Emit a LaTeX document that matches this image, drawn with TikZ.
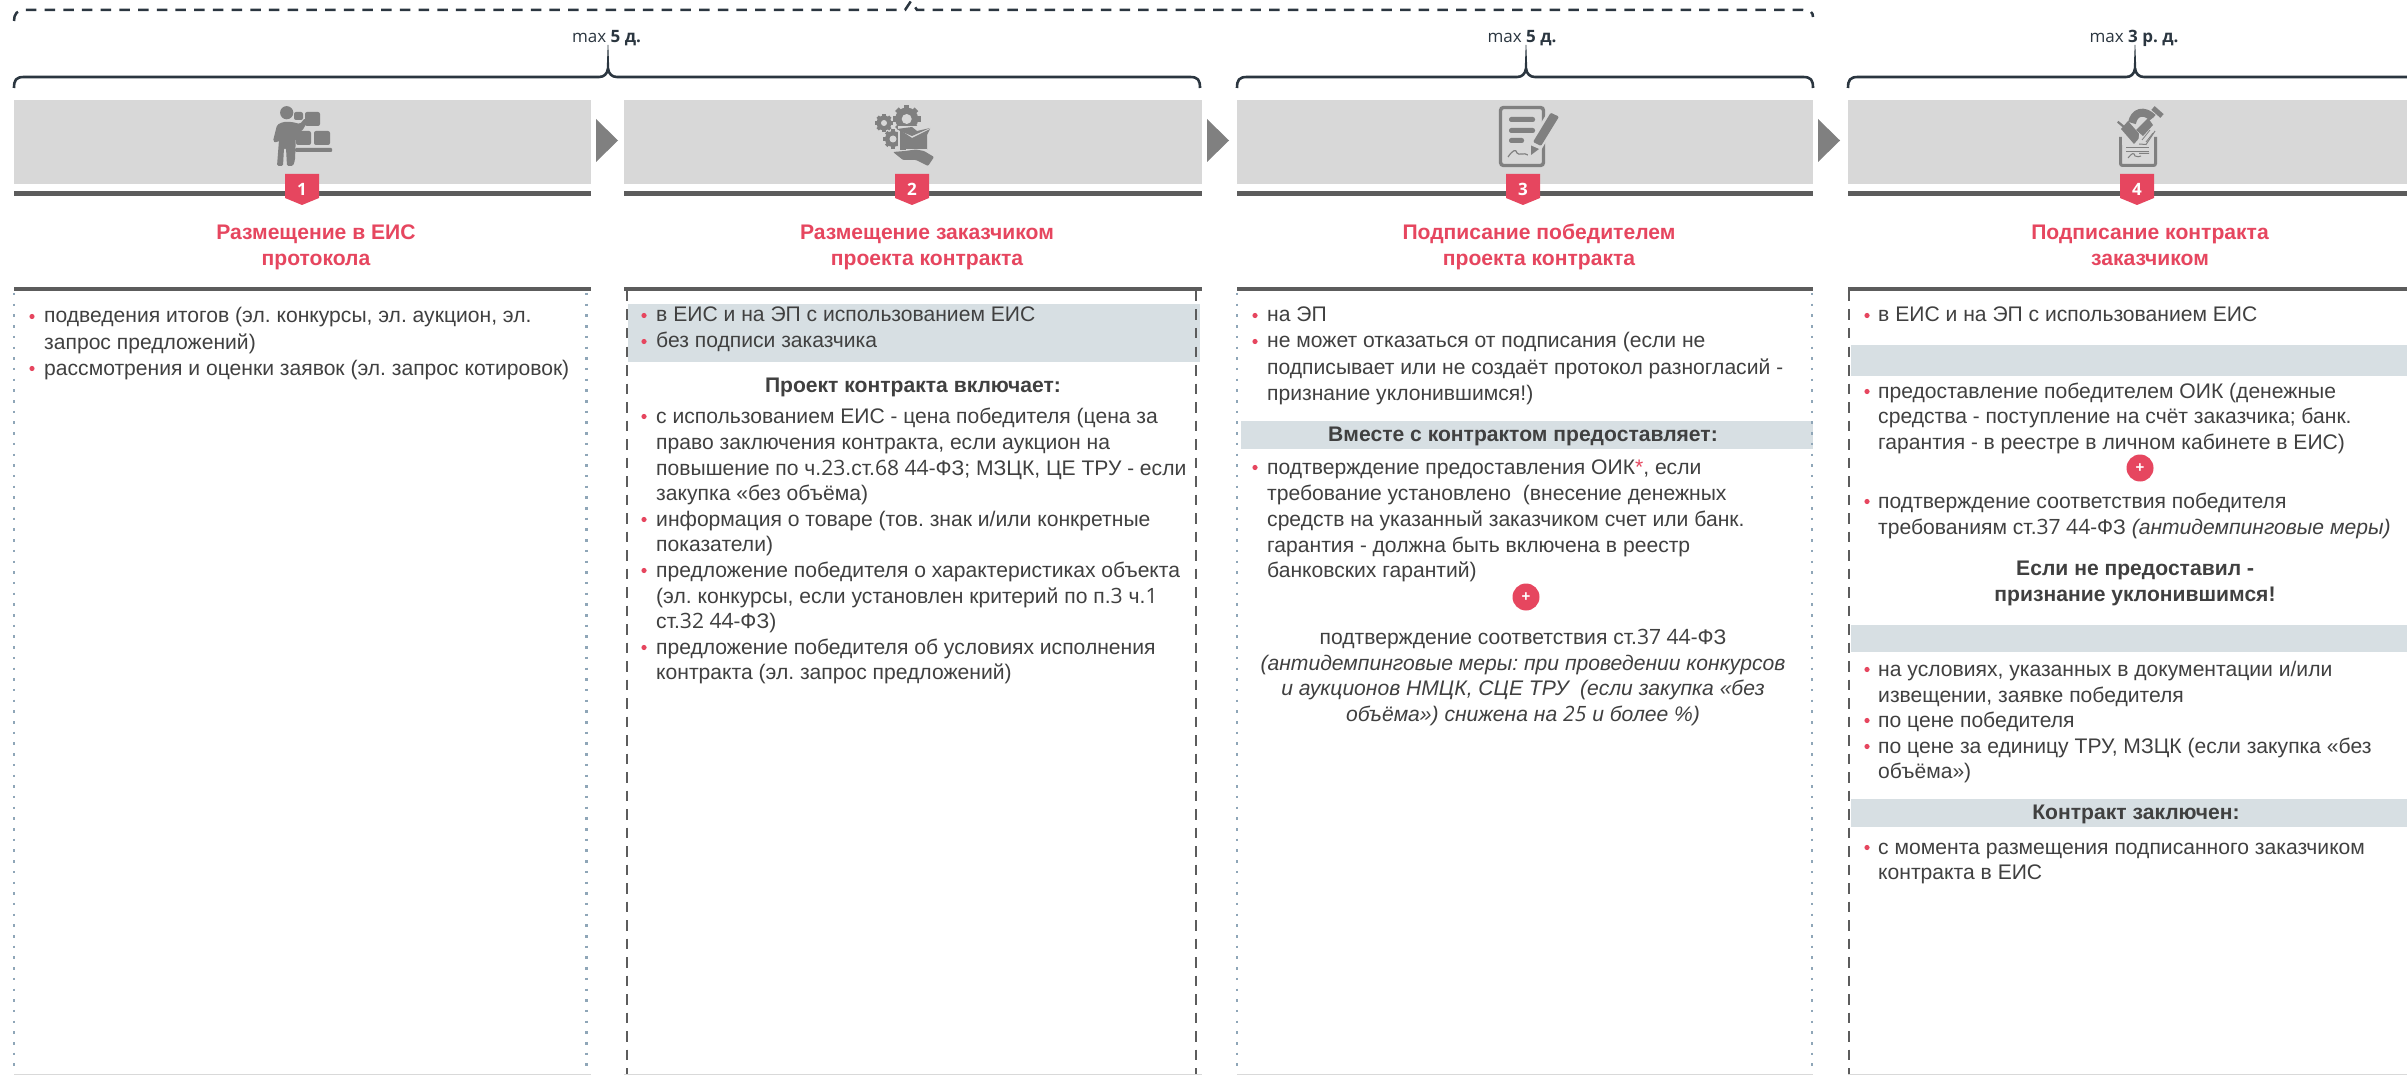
\documentclass[tikz,border=0pt]{standalone}
\usepackage{fontspec}
\setmainfont{Liberation Sans}
\newfontfamily\opensans{Open Sans}
\AtBeginDocument{\frenchspacing}
\definecolor{txt}{HTML}{404040}
\definecolor{redc}{HTML}{E6465F}
\definecolor{panelc}{HTML}{D8D8D8}
\definecolor{bandc}{HTML}{D7DFE3}
\definecolor{icon}{HTML}{808080}
\definecolor{barc}{HTML}{5C5C5C}
\definecolor{brc}{HTML}{2B3640}
\definecolor{dotc}{HTML}{8FA6B8}
\newcommand\dg[1]{{\opensans #1}}
\newcount\tn
\tikzset{
  body/.style={anchor=base west,inner sep=0pt,text=txt,font=\fontsize{21.1}{25}\selectfont},
  mid/.style={anchor=base,inner sep=0pt,text=txt,font=\fontsize{21.1}{25}\selectfont},
  midb/.style={anchor=base,inner sep=0pt,text=txt,font=\fontsize{21.1}{25}\selectfont\bfseries},
  ttl/.style={anchor=base,inner sep=0pt,text=redc,font=\fontsize{21.1}{25}\selectfont\bfseries},
  lbl/.style={anchor=base,inner sep=0pt,text=brc,font=\fontsize{17}{20}\selectfont\opensans},
  num/.style={anchor=center,inner sep=0pt,text=white,font=\fontsize{17}{20}\selectfont\opensans\bfseries},
  pluscirc/.style={circle,fill=redc,minimum size=27pt,inner sep=0pt,text=white,font=\fontsize{15}{16}\selectfont\bfseries},
  dotline/.style={draw=dotc,line width=2.5pt,dash pattern=on 2.5pt off 8.2pt},
  dashline/.style={draw=barc,line width=2.5pt,dash pattern=on 10.5pt off 8pt},
  bracel/.style={draw=brc,line width=2.6pt},
  topdash/.style={draw=brc,line width=2.5pt,dash pattern=on 10.5pt off 8.2pt},
}
% one text line
\newcommand\tl[3]{\global\advance\tn by 1 \node[body] (line\the\tn) at (#1,#2) {#3};}
\newcommand\cl[4]{\global\advance\tn by 1 \node[#1] (line\the\tn) at (#2,#3) {#4};}
\newcommand\bul[2]{\fill[redc] (#1,#2-6.5) circle (2.6pt);}
% panel head
\newcommand\head[2]{%
  \fill[panelc] (#1,100) rectangle (#2,184);
  \fill[barc] (#1,191) rectangle (#2,196);
  \fill[barc] (#1,287) rectangle (#2,291);
  \fill[gray!30] (#1,1074) rectangle (#2,1075);
}
\newcommand\badge[3]{%
  \fill[redc] (#1-17,174) -- (#1+17,174) -- (#1+17,198) -- (#1,205) -- (#1-17,198) -- cycle;
  \node[num] (#3) at (#1,189) {#2};
}
\newcommand\arrowhead[1]{\fill[icon] (#1,119) -- (#1+22,140.5) -- (#1,162) -- cycle;}
\newcommand\bracem[3]{%
  \draw[bracel] (#1,88) .. controls (#1,80) and (#1+2,77) .. (#1+10,77) -- (#2-9,77) .. controls (#2-4,77) and (#2-1,74) .. (#2,69)
     .. controls (#2+1,74) and (#2+4,77) .. (#2+9,77) -- (#3-10,77) .. controls (#3-2,77) and (#3,80) .. (#3,88);
  \fill[brc] (#2-1.3,70) -- (#2-0.3,45) -- (#2+0.3,45) -- (#2+1.3,70) -- cycle;
}
\newcommand\gear[4]{% x y r hole
  \foreach \a in {0,45,...,315}{\fill[icon,rotate around={\a:(#1,#2)}] (#1-#3*0.22,#2) rectangle (#1+#3*0.22,#2-#3*1.2);}
  \fill[icon] (#1,#2) circle (#3);
  \fill[panelc] (#1,#2) circle (#4);
}
\begin{document}
\begin{tikzpicture}[x=1pt,y=-1pt]
\useasboundingbox (0,0) rectangle (2407,1075);
\fill[white] (0,0) rectangle (2407,1075);

% top dashed bracket
\draw[topdash] (14,21) .. controls (14,14) and (17,10) .. (25,10) -- (905,10) -- (911,1) -- (917,10) -- (1803,10) .. controls (1810,10) and (1813,12) .. (1813,17);

% braces
\bracem{14}{608}{1200}
\bracem{1237}{1526}{1813}
\draw[bracel] (1848,88) .. controls (1848,80) and (1850,77) .. (1858,77) -- (2126,77) .. controls (2131,77) and (2134,74) .. (2135,69)
     .. controls (2136,74) and (2139,77) .. (2144,77) -- (2407,77);
\fill[brc] (2133.7,70) -- (2134.7,45) -- (2135.3,45) -- (2136.3,70) -- cycle;
\cl{lbl}{606.5}{43}{max {\bfseries 5 д.}}
\cl{lbl}{1522}{43}{max {\bfseries 5 д.}}
\cl{lbl}{2134}{43}{max {\bfseries 3 р. д.}}

% panels
\head{14}{591}
\head{624}{1202}
\head{1237}{1813}
\head{1848}{2407}
\arrowhead{596}
\arrowhead{1207}
\arrowhead{1818}

% content bands
\fill[bandc] (628,304) rectangle (1200,362);
\fill[bandc] (1241,421) rectangle (1813,449);
\fill[bandc] (1851,345) rectangle (2407,376);
\fill[bandc] (1851,625) rectangle (2407,652);
\fill[bandc] (1851,799) rectangle (2407,827);

% column side lines
\draw[dotline] (14,293) -- (14,1074);
\draw[dotline] (586.5,293) -- (586.5,1074);
\draw[dotline] (1237,293) -- (1237,1074);
\draw[dotline] (1812,293) -- (1812,1074);
\draw[dashline] (627,291) -- (627,1074);
\draw[dashline] (1196,291) -- (1196,1074);
\draw[dashline] (1849,291) -- (1849,1074);

% icon 1
\fill[icon] (286.7,112.7) circle (6.6);
\fill[icon,rounded corners=1.5] (273,141) -- (277,125) -- (283,122) -- (292,122) -- (300,124) -- (305,118) -- (308,121) -- (302,131) -- (296,133) -- (295,160) -- (293,166) -- (287,166) -- (286,148) -- (284,148) -- (283,166) -- (277,166) -- (279,140) -- (276,143) -- cycle;
\fill[icon,rounded corners=2] (305,112) rectangle (320,126);
\fill[icon,rounded corners=2] (294,112) rectangle (303,120);
\fill[icon,rounded corners=2] (296,131) rectangle (311,145);
\fill[icon,rounded corners=2] (314,131) rectangle (330,145);
\fill[icon,rounded corners=1] (295,148) rectangle (332,152);

% icon 2
\gear{906.7}{119}{11.5}{5}
\gear{884}{123}{7.5}{3}
\gear{893}{139}{8}{3.5}
\fill[panelc] (898,126) rectangle (930,152);
\fill[icon] (900,130) -- (912,138) -- (930,129) -- (927,135) -- (927,150) -- (900,150) -- cycle;
\fill[icon] (897,129) -- (912,127) -- (917,131) -- (930,128) -- (912,136) -- (900,131) -- cycle;
\fill[panelc] (906,149) rectangle (927,152);
\fill[icon,rounded corners=1] (893,152) -- (905,151) -- (916,149.5) -- (924,151) -- (934,157) -- (928,166) -- (916,160) -- (903,160) -- cycle;

% icon 3
\draw[icon,line width=3.4pt,rounded corners=3] (1500.5,107.5) rectangle (1543.5,165.5);
\fill[icon,rounded corners=2.2] (1509,117) rectangle (1535,122);
\fill[icon,rounded corners=2.2] (1509,128) rectangle (1535,133);
\fill[icon,rounded corners=2.2] (1509,138) rectangle (1524,143);
\draw[icon,line width=1.2pt] (1508,157) .. controls (1512,151) and (1516,148) .. (1517,153) .. controls (1519,156) and (1524,152) .. (1528,155);
\fill[panelc] (1549,110) -- (1561,116) -- (1540,152) -- (1528,158) -- (1528,144) -- cycle;
\fill[icon,rounded corners=1.2] (1550.7,112.7) -- (1559,116.7) -- (1541,146) -- (1533,142) -- cycle;
\fill[icon] (1531,145.5) -- (1539,149) -- (1531,155) -- cycle;

% icon 4
\draw[icon,line width=3pt,rounded corners=2] (2120.5,137) -- (2120.5,165.5) -- (2155.5,165.5) -- (2155.5,137);
\draw[icon,line width=1pt] (2126,148) -- (2149,148) (2126,151.5) -- (2149,151.5);
\draw[icon,line width=1pt] (2128,158) .. controls (2132,153) and (2134,152) .. (2135,156) .. controls (2137,157) and (2140,157) .. (2141,156) (2139,153.5) -- (2149,153.5);
\fill[panelc] (2122,130) rectangle (2154,145);
\draw[icon,line width=1pt] (2126,148) -- (2149,148);
\draw[icon,line width=2.2pt] (2117.7,121.7) -- (2124,127);
\draw[icon,line width=8pt] (2132,123) .. controls (2134,112) and (2144,109) .. (2153,118);
\draw[icon,line width=5pt] (2153,108) -- (2162,116);
\fill[icon] (2121,129) -- (2128,121) -- (2141,136) -- (2134,144) -- cycle;
\fill[panelc] (2138,143) -- (2140,128) -- (2153,118) -- (2157,126) -- (2145,144) -- cycle;
\draw[icon,line width=1pt] (2139,144) -- (2146,144.5) -- (2155,131);
\fill[icon] (2136,130) -- (2148,118) -- (2153,125) -- (2143,136) -- cycle;
\draw[icon,line width=.8pt] (2142,140) -- (2150,130) (2146,142) -- (2153,133);

% badges
\badge{302}{1}{b1}
\badge{912}{2}{b2}
\badge{1523}{3}{b3}
\badge{2137}{4}{b4}

% titles
\cl{ttl}{316}{240}{Размещение в ЕИС}
\cl{ttl}{316}{266}{протокола}
\cl{ttl}{927}{240}{Размещение заказчиком}
\cl{ttl}{927}{266}{проекта контракта}
\cl{ttl}{1539}{240}{Подписание победителем}
\cl{ttl}{1539}{266}{проекта контракта}
\cl{ttl}{2150}{240}{Подписание контракта}
\cl{ttl}{2150}{266}{заказчиком}

% column 1
\bul{32}{323}\tl{44}{323}{подведения итогов (эл. конкурсы, эл. аукцион, эл.}
\tl{44}{349}{запрос предложений)}
\bul{32}{375}\tl{44}{375}{рассмотрения и оценки заявок (эл. запрос котировок)}

% column 2
\bul{644}{322}\tl{656}{322}{в ЕИС и на ЭП с использованием ЕИС}
\bul{644}{348}\tl{656}{348}{без подписи заказчика}
\cl{midb}{913}{392}{Проект контракта включает:}
\bul{644}{423}\tl{656}{423}{с использованием ЕИС \dg{-} цена победителя (цена за}
\tl{656}{449}{право заключения контракта, если аукцион на}
\tl{656}{475}{повышение по ч.\dg{23}.ст.\dg{68 44-}ФЗ; МЗЦК, ЦЕ ТРУ \dg{-} если}
\tl{656}{500}{закупка «без объёма)}
\bul{644}{526}\tl{656}{526}{информация о товаре (тов. знак и/или конкретные}
\tl{656}{551}{показатели)}
\bul{644}{577}\tl{656}{577}{предложение победителя о характеристиках объекта}
\tl{656}{603}{(эл. конкурсы, если установлен критерий по п.\dg{3} ч.\dg{1}}
\tl{656}{628}{ст.\dg{32 44-}ФЗ)}
\bul{644}{654}\tl{656}{654}{предложение победителя об условиях исполнения}
\tl{656}{679}{контракта (эл. запрос предложений)}

% column 3
\bul{1255}{322}\tl{1267}{322}{на ЭП}
\bul{1255}{348}\tl{1267}{348}{не может отказаться от подписания (если не}
\tl{1267}{374}{подписывает или не создаёт протокол разногласий \dg{-}}
\tl{1267}{400}{признание уклонившимся!)}
\cl{midb}{1523}{441}{Вместе с контрактом предоставляет:}
\bul{1255}{474}\tl{1267}{474}{подтверждение предоставления ОИК\textcolor{redc}{*}, если}
\tl{1267}{500}{требование установлено\ \ (внесение денежных}
\tl{1267}{526}{средств на указанный заказчиком счет или банк.}
\tl{1267}{552}{гарантия \dg{-} должна быть включена в реестр}
\tl{1267}{577}{банковских гарантий)}
\node[pluscirc] (p3) at (1526,597) {+};
\cl{mid}{1523}{644}{подтверждение соответствия ст.\dg{37 44-}ФЗ}
\cl{mid}{1523}{670}{\itshape (антидемпинговые меры: при проведении конкурсов}
\cl{mid}{1523}{695}{\itshape и аукционов НМЦК, СЦЕ ТРУ\ \ (если закупка «без}
\cl{mid}{1523}{721}{\itshape объёма») снижена на \dg{\itshape 25} и более \%)}

% column 4
\bul{1867}{322}\tl{1878}{322}{в ЕИС и на ЭП с использованием ЕИС}
\bul{1867}{398}\tl{1878}{398}{предоставление победителем ОИК (денежные}
\tl{1878}{423}{средства \dg{-} поступление на счёт заказчика; банк.}
\tl{1878}{449}{гарантия \dg{-} в реестре в личном кабинете в ЕИС)}
\node[pluscirc] (p4) at (2140,468) {+};
\bul{1867}{508}\tl{1878}{508}{подтверждение соответствия победителя}
\tl{1878}{534}{требованиям ст.\dg{37 44-}ФЗ {\itshape (антидемпинговые меры)}}
\cl{midb}{2135}{575}{Если не предоставил \dg{-}}
\cl{midb}{2135}{601}{признание уклонившимся!}
\bul{1867}{676}\tl{1878}{676}{на условиях, указанных в документации и/или}
\tl{1878}{702}{извещении, заявке победителя}
\bul{1867}{727}\tl{1878}{727}{по цене победителя}
\bul{1867}{753}\tl{1878}{753}{по цене за единицу ТРУ, МЗЦК (если закупка «без}
\tl{1878}{778}{объёма»)}
\cl{midb}{2136}{819}{Контракт заключен:}
\bul{1867}{854}\tl{1878}{854}{с момента размещения подписанного заказчиком}
\tl{1878}{879}{контракта в ЕИС}
\end{tikzpicture}
\end{document}
